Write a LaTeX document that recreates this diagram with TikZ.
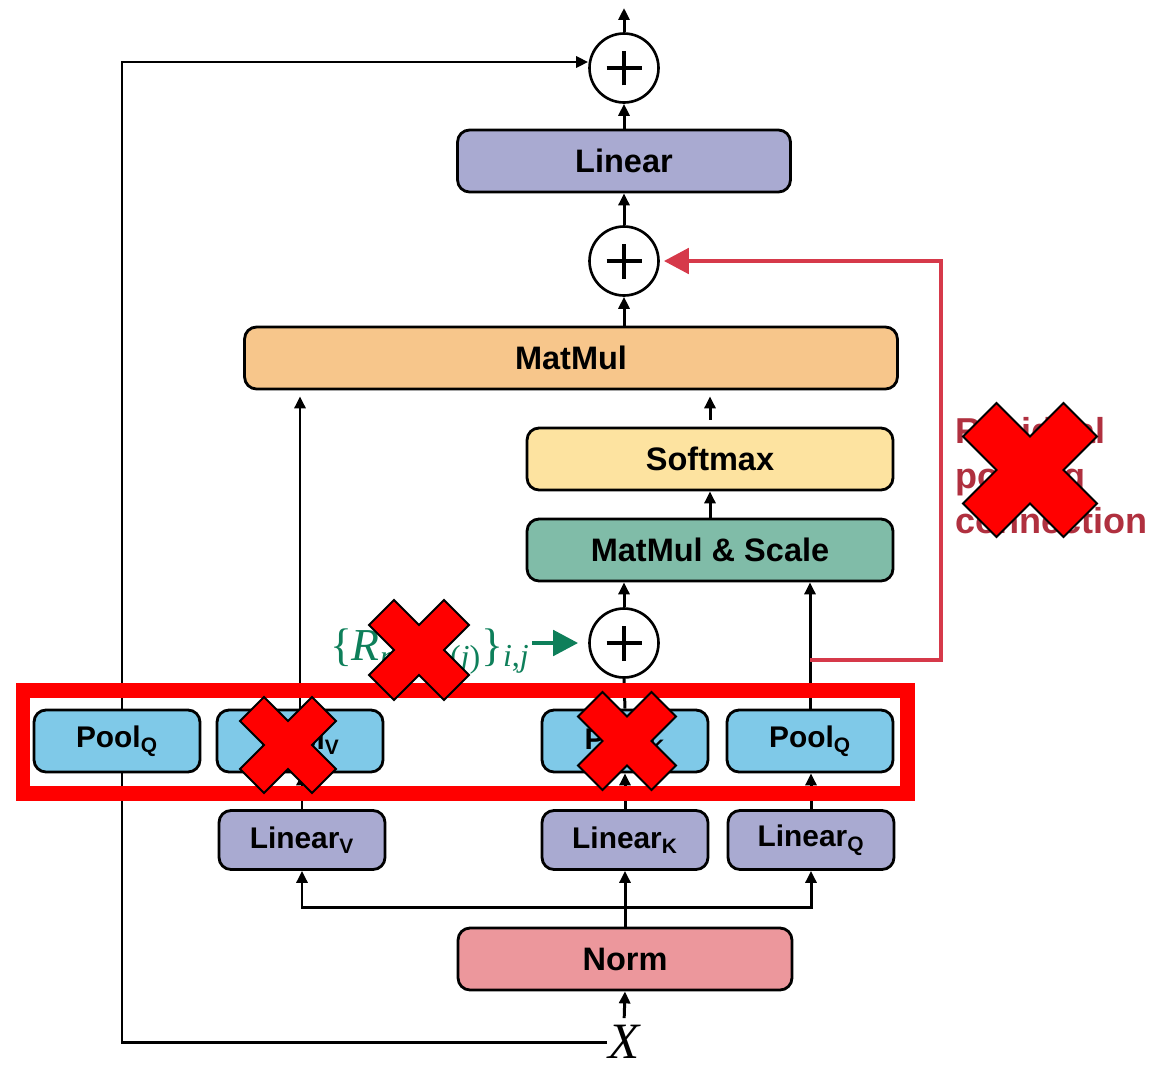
\documentclass[tikz,border=0pt]{standalone}
\usepackage{fontspec}
\setmainfont{Liberation Sans}
\newfontfamily\timesfont{Liberation Serif}
\usetikzlibrary{arrows.meta}
\pgfdeclarelayer{background}
\pgfsetlayers{background,main}

\definecolor{linearc}{HTML}{A9AAD1}
\definecolor{matmulc}{HTML}{F7C68B}
\definecolor{softmaxc}{HTML}{FDE3A0}
\definecolor{scalec}{HTML}{80BCA8}
\definecolor{poolc}{HTML}{7FC9E8}
\definecolor{normc}{HTML}{EC979C}
\definecolor{resred}{HTML}{D6394A}
\definecolor{restext}{HTML}{B0303F}
\definecolor{posgreen}{HTML}{0E7F5A}

\newcommand{\lowsub}[1]{\textsubscript{#1}}

\tikzset{
  box/.style={draw, line width=1.6pt, rounded corners=0.24cm, minimum height=1.24cm,
    inner sep=0pt, font=\fontsize{18.5}{22}\selectfont\bfseries},
  smallbox/.style={box, minimum width=3.32cm, font=\fontsize{17}{20}\selectfont\bfseries},
  pool/.style={smallbox, fill=poolc},
  linsub/.style={smallbox, fill=linearc, minimum height=1.18cm},
  plus/.style={circle, draw, line width=1.5pt, minimum size=1.38cm, inner sep=0pt,
    path picture={\draw[line width=2.8pt]
      ([xshift=-0.35cm]path picture bounding box.center) -- ([xshift=0.35cm]path picture bounding box.center)
      ([yshift=-0.35cm]path picture bounding box.center) -- ([yshift=0.35cm]path picture bounding box.center);}},
  link/.style={line width=1.7pt, -{Triangle[length=0.24cm,width=0.22cm]}},
  resline/.style={resred, line width=2.8pt},
  nocross/.pic={\draw[fill=red, line width=1.1pt, line join=miter]
    (-25,-50) -- (0,-25) -- (25,-50) -- (50,-25) -- (25,0) -- (50,25) -- (25,50)
    -- (0,25) -- (-25,50) -- (-50,25) -- (-25,0) -- (-50,-25) -- cycle;}
}

\begin{document}
\begin{tikzpicture}[x=0.02cm, y=-0.02cm]
  \useasboundingbox (0,0) rectangle (1153,1065);

  % attention block
  \node[plus] (add1) at (624,68) {};
  \node[box, fill=linearc, minimum width=6.66cm] (lin) at (624,161) {Linear};
  \node[plus] (add2) at (624,261) {};
  \node[box, fill=matmulc, minimum width=13.06cm] (mm) at (571,358) {MatMul};
  \node[box, fill=softmaxc, minimum width=7.32cm] (sm) at (710,459) {Softmax};
  \node[box, fill=scalec, minimum width=7.32cm] (mms) at (710,550) {MatMul \& Scale};
  \node[plus] (add3) at (624,643) {};
  \node[pool] (poolql) at (117,741) {Pool\lowsub{Q}};
  \node[pool] (poolv) at (300,741) {Pool\lowsub{V}};
  \node[pool] (poolk) at (625,741) {Pool\lowsub{K}};
  \node[pool] (poolq) at (810,741) {Pool\lowsub{Q}};
  \node[linsub] (linv) at (302,840) {Linear\lowsub{V}};
  \node[linsub] (link) at (625,840) {Linear\lowsub{K}};
  \node[linsub] (linq) at (811,840) {Linear\lowsub{Q}};
  \node[box, fill=normc, minimum width=6.68cm] (norm) at (625,959) {Norm};
  \node[inner sep=0.5pt, font=\fontsize{29}{34}\selectfont\timesfont\itshape] (x) at (624,1042) {X};
  \node[posgreen, anchor=base east, inner sep=0pt, font=\fontsize{26}{30}\selectfont\timesfont]
    (rpos) at (530,660)
    {\{\textit{R}\textsubscript{\textit{p}(\textit{i}),\textit{p}(\textit{j})}\}\textsubscript{\textit{i},\textit{j}}};
  \node[restext, anchor=north west, inner sep=0pt, align=left,
    font=\fontsize{20.5}{25.5}\selectfont\bfseries] (restxt) at (955,417)
    {Residual\\pooling\\connection};

  \coordinate (out) at (624,8);
  \coordinate (skipturn) at (122,62);
  \coordinate (split) at (625,907);
  \coordinate (rtap) at (810,660);

  \begin{pgfonlayer}{background}
    \draw[link] (x.west) -| (skipturn) -- (skipturn -| add1.west);
    \draw[link] (add1.north) -- (out);
    \draw[link] (lin.north) -- (add1.south);
    \draw[link] (add2.north) -- (lin.south);
    \draw[link] (mm.north -| add2) -- (add2.south);
    \draw[link, shorten <=0.14cm, shorten >=0.12cm] (sm.north) -- (sm.north |- mm.south);
    \draw[link] (mms.north) -- (sm.south);
    \draw[link] (add3.north) -- (add3.north |- mms.south);
    \draw[link] (poolq.north) -- (poolq.north |- mms.south);
    \draw[link, shorten >=0.12cm] (poolv.north) -- (poolv.north |- mm.south);
    \draw[line width=1.7pt] (poolk.north) -- (add3.south);
    \draw[link] (linv.north) -- (linv.north |- poolv.south);
    \draw[link] (link.north) -- (poolk.south);
    \draw[link] (linq.north) -- (linq.north |- poolq.south);
    \draw[line width=1.7pt] (norm.north) -- (split);
    \draw[link] (split) -| (linv.south);
    \draw[link] (split) -| (linq.south);
    \draw[link] (split) -- (link.south);
    \draw[link, shorten <=0.12cm] (x.north) -- (norm.south);
  \end{pgfonlayer}

  % residual pooling connection
  \draw[resline, -{Triangle[length=0.5cm,width=0.5cm]}, shorten >=0.08cm]
    (rtap) -- ++(131,0) |- (add2.east);
  \draw[posgreen, line width=2.8pt, -{Triangle[length=0.5cm,width=0.5cm]},
    shorten <=0.04cm, shorten >=0.2cm] (rpos.east |- add3) -- (add3.west);

  % removed parts
  \draw[red, line width=0.3cm] (23,690) rectangle (907,793);
  \path (288,745) pic[scale=0.96] {nocross};
  \path (627,741) pic[scale=0.98] {nocross};
  \path (419,650) pic {nocross};
  \path (1030,470) pic[scale=1.34] {nocross};
\end{tikzpicture}
\end{document}
